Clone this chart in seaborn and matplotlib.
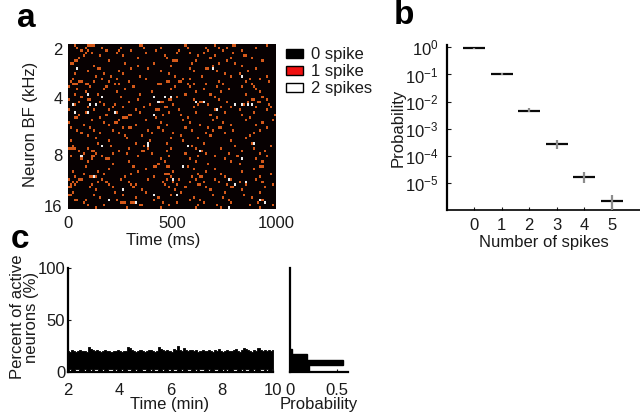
import matplotlib
matplotlib.use("Agg")
import matplotlib.pyplot as plt
from matplotlib.colors import ListedColormap
from matplotlib.patches import Patch
import numpy as np
import seaborn as sns

# Panel a: bins (10 ms) holding one spike, one list per neuron
row_spikes = [
    [3, 9, 10, 11, 12, 34, 35, 56, 70, 79, 80, 95],
    [4, 8, 16, 25, 36, 44, 57, 66, 72, 76, 90],
    [6, 9, 18, 24, 30, 42, 53, 67, 74, 83],
    [8, 11, 23, 37, 52, 58, 65, 79],
    [7, 15, 26, 46, 62, 70, 84, 85],
    [5, 33, 47, 68, 78, 88],
    [3, 4, 19, 50, 51, 52, 61, 76, 93],
    [1, 2, 27, 41, 59, 72, 80],
    [12, 33, 49, 69, 83],
    [14, 15, 30, 38, 58, 66, 67, 90],
    [9, 24, 44, 60, 71, 86],
    [3, 17, 26, 48, 75, 82],
    [13, 20, 34, 51, 64, 78, 95],
    [2, 16, 23, 37, 55, 58, 87, 92],
    [1, 5, 6, 12, 19, 29, 47, 48, 53, 54, 72, 85, 96],
    [2, 3, 4, 8, 9, 22, 24, 43, 44, 57, 60, 66, 74, 88],
    [0, 10, 18, 31, 51, 58, 71, 83, 89],
    [4, 17, 27, 49, 65, 77, 90],
    [8, 23, 40, 61, 73, 92],
    [3, 14, 34, 56, 68, 85],
    [6, 25, 41, 52, 70, 93],
    [0, 9, 10, 33, 48, 49, 60, 72, 88, 89, 95],
    [5, 15, 29, 44, 45, 63, 64, 76, 86, 91, 92],
    [2, 3, 17, 22, 39, 50, 62, 67, 84, 96],
    [9, 21, 26, 36, 46, 47, 60, 73, 78, 90, 97],
    [0, 12, 19, 32, 42, 43, 53, 70, 82, 95],
    [8, 23, 34, 48, 61, 75, 89],
    [5, 18, 29, 30, 45, 54, 68, 83, 99],
    [3, 4, 15, 26, 27, 28, 42, 57, 71, 87],
    [11, 24, 37, 55, 69, 85, 98],
    [0, 17, 22, 23, 44, 58, 74, 93],
    [7, 19, 32, 47, 63, 78, 90],
    [1, 10, 26, 29, 30, 43, 56, 67, 72, 73, 95],
    [4, 12, 21, 38, 45, 59, 69, 79, 92],
    [6, 15, 24, 40, 50, 66, 75, 89],
    [9, 27, 35, 54, 68, 87],
    [13, 28, 49, 62, 85],
    [1, 19, 39, 55, 78],
    [14, 32, 47, 65, 88],
    [2, 20, 36, 59, 80, 97],
    [0, 1, 2, 3, 9, 29, 38, 49, 61, 73, 89],
    [5, 11, 12, 24, 35, 36, 47, 63, 64, 83, 94],
    [7, 13, 21, 28, 40, 56, 66, 77, 92],
    [1, 11, 12, 16, 33, 48, 62, 70, 81, 95],
    [6, 11, 18, 19, 44, 58, 75, 90],
    [9, 29, 46, 61, 78, 93],
    [21, 43, 67, 82],
    [8, 31, 41, 42, 47, 48, 57, 92, 93],
    [19, 37, 60, 70, 89],
    [2, 14, 33, 50, 66, 83],
    [7, 17, 30, 46, 47, 48, 62, 73, 97],
    [3, 10, 11, 13, 27, 41, 49, 59, 63, 64, 75, 92],
    [0, 5, 6, 16, 25, 38, 47, 53, 61, 70, 78, 90],
    [2, 4, 14, 18, 29, 45, 50, 58, 65, 72, 82, 93],
    [1, 3, 11, 19, 30, 32, 46, 52, 62, 63, 76, 85, 98],
    [0, 1, 10, 21, 31, 48, 56, 66, 78, 79, 94],
    [13, 35, 51, 68, 83],
    [2, 22, 37, 54, 75, 92],
    [0, 1, 12, 26, 49, 69, 84],
    [15, 32, 43, 60, 74, 88],
    [3, 4, 8, 23, 41, 58, 63, 77, 93],
    [7, 25, 26, 27, 30, 31, 45, 52, 65, 78, 91],
    [9, 17, 34, 35, 48, 62, 71, 87, 98],
    [13, 28, 44, 61, 73, 92],
]

# Panel a: spikes counted twice
double_ms = [43, 695, 830, 91, 160, 412, 465, 494, 433, 21, 104, 133, 807, 835, 864,
             883, 618, 650, 32, 91, 225, 414, 714, 164, 382, 388, 575, 634, 894, 61,
             831, 554, 125, 506, 775, 804, 855, 262, 414, 525, 193, 321, 926, 947, 774]
double_row = [9, 9, 12, 19, 20, 20, 20, 20, 22, 23, 23, 23, 23, 23, 23,
              23, 22, 22, 26, 26, 26, 27, 25, 39, 38, 39, 39, 41, 38, 43,
              44, 47, 51, 52, 52, 54, 53, 56, 58, 58, 60, 61, 60, 61, 63]
freq_ticks = [2, 21, 43, 63]
freq_labels = ["2", "4", "8", "16"]
time_ticks = [0, 50, 100]
time_labels = ["0", "500", "1000"]

# Panel b
n_spikes = [0, 1, 2, 3, 4, 5]
prob = [0.93, 0.10, 0.0045, 2.7e-4, 1.7e-5, 2.1e-6]
prob_low = [0.88, 0.092, 4e-3, 1.8e-4, 1e-5, 1e-6]
prob_high = [0.98, 0.115, 6e-3, 3.9e-4, 2.5e-5, 3.5e-6]

# Panel c
peak_pct = [20, 19, 21, 20, 19, 20, 21, 20, 20, 19, 24, 22, 21, 20, 21, 20, 19, 20, 21, 20,
            20, 19, 20, 20, 21, 20, 19, 20, 20, 24, 23, 21, 20, 19, 20, 21, 20, 19, 20, 21,
            21, 20, 19, 20, 24, 22, 21, 20, 21, 20, 19, 22, 21, 25, 21, 20, 23, 21, 20, 21,
            21, 20, 21, 19, 20, 21, 20, 20, 21, 20, 19, 21, 20, 22, 20, 19, 20, 21, 20, 20,
            21, 22, 20, 19, 21, 23, 22, 21, 20, 19, 21, 20, 23, 21, 20, 21, 20, 21, 20, 21]
floor_pct = [0, 3, 0, 0, 3, 3, 0, 0, 3, 0, 0, 3, 0, 3, 3, 0, 0, 3, 0, 0,
             3, 3, 0, 3, 0, 0, 3, 0, 0, 3, 3, 0, 0, 3, 0, 0, 3, 3, 0, 0,
             3, 0, 3, 3, 0, 0, 3, 0, 0, 3, 0, 3, 3, 0, 0, 3, 0, 0, 3, 3,
             0, 0, 3, 0, 3, 3, 0, 0, 3, 0, 0, 3, 3, 0, 0, 3, 0, 3, 0, 0,
             3, 3, 0, 0, 3, 0, 3, 3, 0, 0, 3, 0, 0, 3, 3, 0, 3, 0, 0, 3]
hist_edges = [0, 6.4, 12, 17, 22]
hist_prob = [0.2, 0.565, 0.18, 0.02]


def px_axes(fig, left, top, right, bottom):
    return fig.add_axes([left / 640, 1 - bottom / 413, (right - left) / 640, (bottom - top) / 413])


sns.set_theme(style="white")
plt.rcParams["font.family"] = ["Liberation Sans", "DejaVu Sans"]
plt.rcParams["font.size"] = 12
plt.rcParams["text.color"] = "#1a1a1a"
plt.rcParams["axes.labelcolor"] = "#1a1a1a"
plt.rcParams["xtick.color"] = "#1a1a1a"
plt.rcParams["ytick.color"] = "#1a1a1a"
plt.rcParams["mathtext.fontset"] = "custom"
plt.rcParams["mathtext.rm"] = "Liberation Sans"

fig = plt.figure(figsize=(6.4, 4.13), dpi=100)

# a) raster
spikes = np.zeros((len(row_spikes), 100))
for row, bins in enumerate(row_spikes):
    spikes[row, bins] = 1
for ms, row in zip(double_ms, double_row):
    spikes[row, ms // 10] = 2

ax_a = px_axes(fig, 68, 44, 276, 209)
sns.heatmap(spikes, ax=ax_a, cmap=ListedColormap(["#070102", "#d4591a", "#ececec"]),
            vmin=0, vmax=2, cbar=False, xticklabels=False, yticklabels=False)
ax_a.set_xticks(time_ticks, time_labels, rotation=0, fontsize=12)
ax_a.set_yticks(freq_ticks, freq_labels, rotation=0, fontsize=12)
ax_a.tick_params(axis="x", length=0, pad=5)
ax_a.tick_params(axis="y", length=0, pad=4)
ax_a.set_xlabel("Time (ms)", fontsize=12)
ax_a.set_ylabel("Neuron BF (kHz)", fontsize=12)
ax_a.xaxis.set_label_coords((163 - 68) / 208, -24 / 165, transform=ax_a.transAxes)
ax_a.yaxis.set_label_coords(-(68 - 38) / 208, (209 - 124) / 165, transform=ax_a.transAxes)
handles = [Patch(facecolor="black", edgecolor="black", label="0 spike"),
           Patch(facecolor="#f01010", edgecolor="black", label="1 spike"),
           Patch(facecolor="white", edgecolor="black", label="2 spikes")]
fig.legend(handles=handles, loc="upper left", bbox_to_anchor=(286 / 640, 1 - 47 / 413), frameon=False,
           fontsize=12, handlelength=1.0, handleheight=0.45, handletextpad=0.5, labelspacing=0.12,
           borderpad=0, borderaxespad=0)

# b) spike count probability
ax_b = px_axes(fig, 447, 45, 640, 210)
sns.scatterplot(x=n_spikes, y=prob, ax=ax_b, marker="_", s=250, color="#0a0a0a", linewidth=1.6, zorder=2)
ax_b.vlines(n_spikes, prob_low, prob_high, color="#8c8c8c", lw=1.6, zorder=3)
ax_b.set_yscale("log")
ax_b.set_xlim(-0.99, 6.03)
ax_b.set_ylim(1e-6, 1.22)
ax_b.set_xticks(n_spikes)
ax_b.set_yticks([1, 1e-1, 1e-2, 1e-3, 1e-4, 1e-5])
ax_b.set_yticklabels([rf"$\mathregular{{10^{{{e}}}}}$" for e in [0, -1, -2, -3, -4, -5]], fontsize=12)
ax_b.tick_params(axis="x", direction="in", length=2, width=0.8, bottom=True, labelsize=12, pad=6)
ax_b.tick_params(axis="y", which="both", direction="in", left=True, pad=6)
ax_b.tick_params(axis="y", which="major", length=3, width=0.8)
ax_b.tick_params(axis="y", which="minor", length=1.5, width=0.6)
ax_b.set_xlabel("Number of spikes", fontsize=12, labelpad=1)
ax_b.set_ylabel("Probability", fontsize=12, labelpad=1)
ax_b.yaxis.set_label_coords(-(447 - 406) / 193, (210 - 128) / 165, transform=ax_b.transAxes)
sns.despine(ax=ax_b)
ax_b.spines["left"].set_linewidth(1.6)
ax_b.spines["bottom"].set_linewidth(1.2)
ax_b.spines["left"].set_color("black")
ax_b.spines["bottom"].set_color("black")

# c) population activity
minutes = np.linspace(2, 10, len(peak_pct))
ax_c = px_axes(fig, 68, 268, 273, 372)
ax_c.fill_between(minutes, floor_pct, peak_pct, color="black", step="mid", lw=0.6)
ax_c.set_xlim(2, 10)
ax_c.set_ylim(0, 100)
ax_c.set_xticks([2, 4, 6, 8, 10])
ax_c.set_yticks([0, 50, 100])
ax_c.tick_params(direction="in", length=2, width=0.8, left=True, bottom=True, labelsize=12)
ax_c.tick_params(axis="x", pad=8)
ax_c.tick_params(axis="y", pad=2)
ax_c.set_xlabel("Time (min)", fontsize=12)
ax_c.set_ylabel("Percent of active\nneurons (%)", fontsize=12, linespacing=0.9)
ax_c.xaxis.set_label_coords((170 - 68) / 205, -25 / 104, transform=ax_c.transAxes)
ax_c.yaxis.set_label_coords(-(68 - 39) / 205, (372 - 317) / 104, transform=ax_c.transAxes)
sns.despine(ax=ax_c)
for side in ["left", "bottom"]:
    ax_c.spines[side].set_linewidth(1.6)
    ax_c.spines[side].set_color("black")

ax_h = px_axes(fig, 290, 268, 348, 372)
sns.histplot(y=hist_edges[:-1], weights=hist_prob, bins=hist_edges, ax=ax_h,
             color="black", edgecolor="black", alpha=1)
ax_h.set_xlim(0, 0.62)
ax_h.set_ylim(0, 100)
ax_h.set_xticks([0, 0.5], ["0", "0.5"])
ax_h.set_yticks([])
ax_h.tick_params(direction="in", length=2, width=0.8, bottom=True, labelsize=12, pad=8)
ax_h.set_xlabel("Probability", fontsize=12)
ax_h.set_ylabel("")
ax_h.xaxis.set_label_coords((319 - 290) / 58, -25 / 104, transform=ax_h.transAxes)
sns.despine(ax=ax_h)
for side in ["left", "bottom"]:
    ax_h.spines[side].set_linewidth(1.6)
    ax_h.spines[side].set_color("black")

# panel letters
for letter, x, y in [("a", 17, 27), ("b", 394, 24), ("c", 11, 248)]:
    fig.text(x / 640, 1 - y / 413, letter, fontsize=24, fontweight="bold", color="black", va="baseline")

fig.savefig("out.png", dpi=100)
plt.close(fig)
